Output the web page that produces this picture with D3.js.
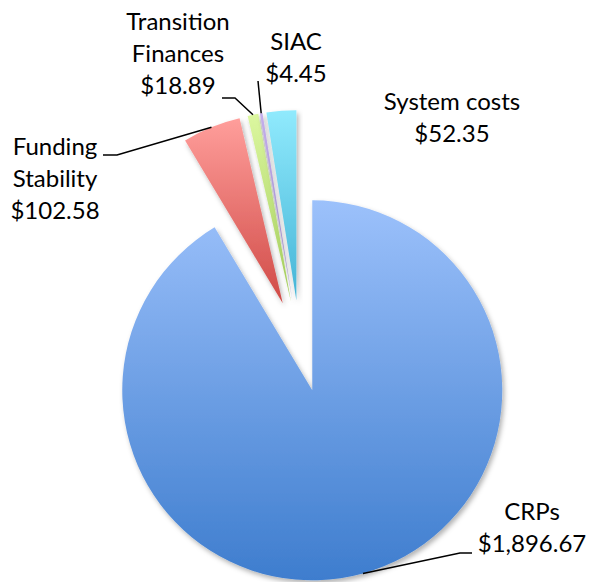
<!DOCTYPE html>
<html>
<head>
<meta charset="utf-8">
<script src="https://cdn.jsdelivr.net/npm/d3@7"></script>
<style>
  body { margin: 0; background: #fff; }
  text { font-family: Lato, "Open Sans", sans-serif; fill: #000; }
</style>
</head>
<body>
<div id="chart"></div>
<script>
// Data
var categories = ["CRPs", "Funding Stability", "Transition Finances", "SIAC", "System costs"];
var amounts = [1896.67, 102.58, 18.89, 4.45, 52.35];
var labelLines = [["CRPs"], ["Funding", "Stability"], ["Transition", "Finances"], ["SIAC"], ["System costs"]];

// top / bottom colours of each slice gradient
var topColors = ["#9cc1fb", "#ff9e9b", "#dcf7a0", "#c4aeec", "#90eafd"];
var bottomColors = ["#3e7dce", "#d04a46", "#a2cc58", "#9584c6", "#44b4d6"];

var svgWidth = 591, svgHeight = 582;
var cx = 300, cy = 346;     // pie centre before explosion
var radius = 190;
var explode = 46;

var svg = d3.select("#chart").append("svg")
  .attr("width", svgWidth)
  .attr("height", svgHeight);

var defs = svg.append("defs");

// soft drop shadow like the spreadsheet
var shadow = defs.append("filter")
  .attr("id", "shadow")
  .attr("x", "-20%").attr("y", "-20%")
  .attr("width", "140%").attr("height", "140%");
shadow.append("feDropShadow")
  .attr("dx", 2).attr("dy", 3)
  .attr("stdDeviation", 2.5)
  .attr("flood-color", "#000")
  .attr("flood-opacity", 0.3);

topColors.forEach(function(c, i) {
  var g = defs.append("linearGradient")
    .attr("id", "grad" + i)
    .attr("x1", 0).attr("y1", 0).attr("x2", 0).attr("y2", 1);
  g.append("stop").attr("offset", "0%").attr("stop-color", c);
  g.append("stop").attr("offset", "100%").attr("stop-color", bottomColors[i]);
});

var data = categories.map(function(c, i) {
  return { name: c, value: amounts[i], lines: labelLines[i], idx: i };
});

var pie = d3.pie().sort(null).value(function(d) { return d.value; });
var arcs = pie(data);

var arc = d3.arc().innerRadius(0).outerRadius(radius);

function offset(d) {
  var mid = (d.startAngle + d.endAngle) / 2;
  return [cx + explode * Math.sin(mid), cy - explode * Math.cos(mid)];
}

function outerMid(d) {
  var o = offset(d);
  var mid = (d.startAngle + d.endAngle) / 2;
  return [o[0] + radius * Math.sin(mid), o[1] - radius * Math.cos(mid)];
}

// slices
svg.append("g").selectAll("path")
  .data(arcs)
  .enter()
  .append("path")
  .attr("transform", function(d) { var o = offset(d); return "translate(" + o[0] + "," + o[1] + ")"; })
  .attr("d", arc)
  .attr("fill", function(d) { return "url(#grad" + d.data.idx + ")"; })
  .attr("filter", "url(#shadow)");

// label layout (placed by hand in the original)
var labelLayout = {
  "CRPs": { x: 532, y: 520, leader: [[460, 553], [472, 553]] },
  "Funding Stability": { x: 55, y: 155, leader: [[117, 155], [103, 155]] },
  "Transition Finances": { x: 178, y: 30, leader: [[235, 98], [222, 98]] },
  "SIAC": { x: 296, y: 50, leader: [[258, 81]] },
  "System costs": { x: 452, y: 110, leader: null }
};
var lineGap = 32;
var fmt = d3.format("$,.2f");

var labels = svg.append("g");

arcs.forEach(function(d) {
  var lay = labelLayout[d.data.name];
  if (lay.leader) {
    var pts = [outerMid(d)].concat(lay.leader);
    labels.append("path")
      .attr("d", d3.line()(pts))
      .attr("fill", "none")
      .attr("stroke", "#000")
      .attr("stroke-width", 1.5);
  }
  var lines = d.data.lines.concat([fmt(d.data.value)]);
  var t = labels.append("text")
    .attr("text-anchor", "middle")
    .style("font-size", "24px");
  lines.forEach(function(s, k) {
    t.append("tspan")
      .attr("x", lay.x)
      .attr("y", lay.y + k * lineGap)
      .text(s);
  });
});
</script>
</body>
</html>
